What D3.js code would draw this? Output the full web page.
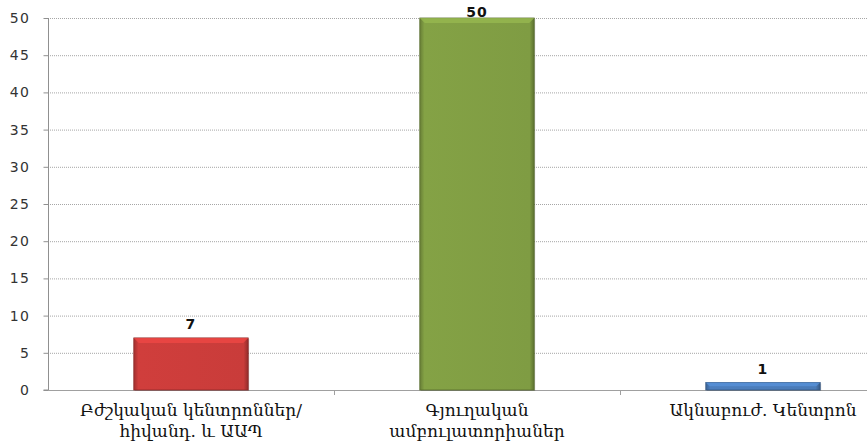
<!DOCTYPE html>
<html>
<head>
<meta charset="utf-8">
<script src="https://cdn.jsdelivr.net/npm/d3@7"></script>
<style>
  body { margin: 0; background: #fff; }
  svg { display: block; }
</style>
</head>
<body>
<svg id="chart" width="867" height="442"></svg>
<script>
// chart values
const categories = [
  ['Բժշկական կենտրոններ/', 'հիվանդ. և ԱԱՊ'],
  ['Գյուղական', 'ամբուլատորիաներ'],
  ['Ակնաբուժ. Կենտրոն']
]
const values = [7, 50, 1]
const barColors = ['#c93c3a', '#7f9c43', '#4a7bb7']
const yTicks = [0, 5, 10, 15, 20, 25, 30, 35, 40, 45, 50]

const svg = d3.select('#chart')
const plotLeft = 48, plotRight = 906, plotTop = 18, plotBottom = 390

const x = d3.scaleBand()
  .domain(d3.range(values.length))
  .range([plotLeft, plotRight])
  .paddingInner(0)
  .paddingOuter(0)
const y = d3.scaleLinear().domain([0, 50]).range([plotBottom, plotTop])
const barW = x.bandwidth() * 0.4

const defs = svg.append('defs')
barColors.forEach((c, i) => {
  const g = defs.append('linearGradient')
    .attr('id', 'grad' + i)
    .attr('x1', 0).attr('x2', 1).attr('y1', 0).attr('y2', 0)
  const base = d3.color(c)
  g.append('stop').attr('offset', '0%').attr('stop-color', base.darker(0.6))
  g.append('stop').attr('offset', '4%').attr('stop-color', base.brighter(0.1))
  g.append('stop').attr('offset', '96%').attr('stop-color', base)
  g.append('stop').attr('offset', '100%').attr('stop-color', base.darker(0.9))
})

// gridlines
svg.append('g')
  .selectAll('line')
  .data(yTicks.filter(d => d > 0))
  .join('line')
  .attr('x1', plotLeft).attr('x2', 867)
  .attr('y1', d => y(d) + 0.5).attr('y2', d => y(d) + 0.5)
  .attr('stroke', '#a6a6a6')
  .attr('stroke-dasharray', '1,1')

// y axis
const yAxis = svg.append('g')
  .attr('transform', `translate(${plotLeft + 0.5},0)`)
  .call(d3.axisLeft(y).tickValues(yTicks).tickSize(5).tickPadding(13))
yAxis.select('.domain').attr('stroke', '#909090').attr('d', `M-5,${plotBottom}H0V${plotTop}`)
yAxis.selectAll('.tick line').attr('stroke', '#909090')
yAxis.selectAll('.tick text')
  .attr('fill', '#333')
  .style('font-family', 'DejaVu Sans, Verdana, sans-serif')
  .style('font-size', '14px')
  .style('letter-spacing', '1.5px')

// x axis line + separators
svg.append('line')
  .attr('x1', plotLeft).attr('x2', 867)
  .attr('y1', plotBottom + 0.5).attr('y2', plotBottom + 0.5)
  .attr('stroke', '#a0a0a0')
svg.append('g')
  .selectAll('line')
  .data(d3.range(1, values.length + 1))
  .join('line')
  .attr('x1', d => x(d - 1) + x.bandwidth() + 0.5)
  .attr('x2', d => x(d - 1) + x.bandwidth() + 0.5)
  .attr('y1', plotBottom).attr('y2', plotBottom + 5)
  .attr('stroke', '#a0a0a0')

// bars
const bars = svg.append('g')
  .selectAll('g')
  .data(values)
  .join('g')
  .attr('transform', (d, i) => `translate(${x(i) + (x.bandwidth() - barW) / 2},0)`)

bars.append('rect')
  .attr('x', 1).attr('y', d => y(d) + 1)
  .attr('width', barW).attr('height', d => plotBottom - y(d))
  .attr('fill', '#000').attr('opacity', 0.18)
bars.append('rect')
  .attr('y', d => y(d))
  .attr('width', barW)
  .attr('height', d => plotBottom - y(d))
  .attr('fill', (d, i) => `url(#grad${i})`)
  .attr('stroke', (d, i) => d3.color(barColors[i]).darker(1))
  .attr('stroke-width', 0.8)
// top bevel
bars.append('path')
  .attr('d', d => {
    const h = Math.min(5, (plotBottom - y(d)) / 2)
    return `M0,${y(d)}H${barW}L${barW - h},${y(d) + h}H${h}Z`
  })
  .attr('fill', (d, i) => d3.color(barColors[i]).brighter(0.5))
  .attr('opacity', 0.75)

// value labels
bars.append('text')
  .attr('x', barW / 2)
  .attr('y', d => Math.max(y(d) - 9, 17))
  .attr('text-anchor', 'middle')
  .style('font-family', 'DejaVu Sans, Verdana, sans-serif')
  .style('font-size', '14px')
  .style('font-weight', 'bold')
  .style('letter-spacing', '1px')
  .attr('fill', '#111')
  .text(d => d)

// category labels
const labels = svg.append('g')
  .selectAll('text')
  .data(categories)
  .join('text')
  .attr('x', (d, i) => x(i) + x.bandwidth() / 2)
  .attr('y', 416)
  .attr('text-anchor', 'middle')
  .style('font-family', 'DejaVu Serif, serif')
  .style('font-size', '17px')
  .attr('fill', '#111')
labels.selectAll('tspan')
  .data(d => d)
  .join('tspan')
  .attr('x', function () { return d3.select(this.parentNode).attr('x') })
  .attr('dy', (d, i) => i === 0 ? 0 : 21)
  .text(d => d)
</script>
</body>
</html>
